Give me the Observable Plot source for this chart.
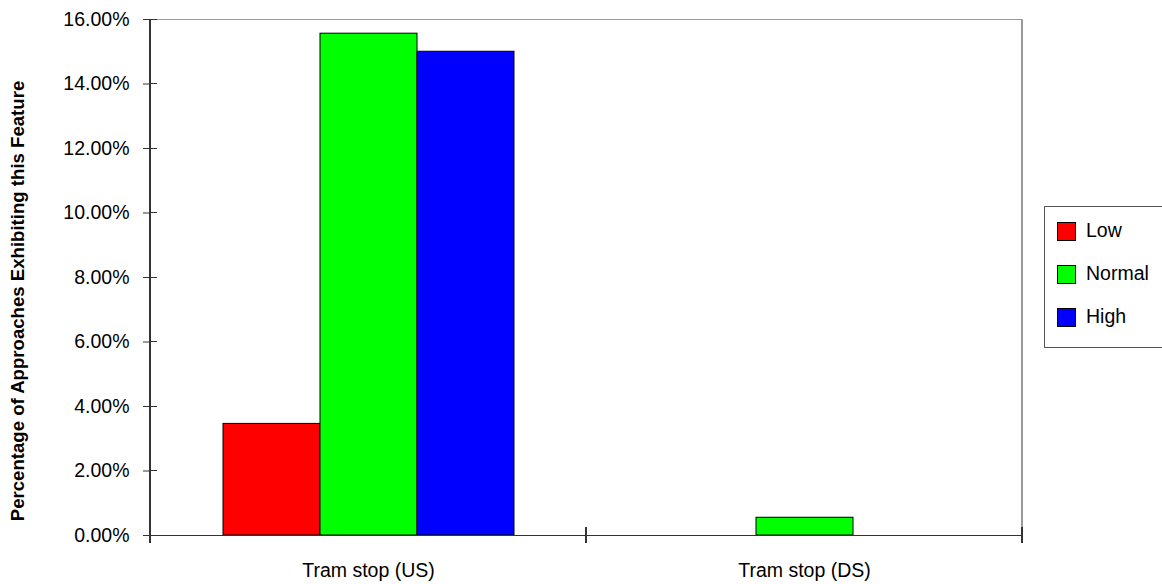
<!DOCTYPE html>
<html>
<head>
<meta charset="utf-8">
<script src="https://cdn.jsdelivr.net/npm/d3@7"></script>
<script src="https://cdn.jsdelivr.net/npm/@observablehq/plot@0.6"></script>
<style>
  html, body { margin: 0; padding: 0; background: #fff; overflow: hidden; }
  #wrap { position: relative; width: 1162px; height: 584px; font-family: Arial, "Liberation Sans", sans-serif; color: #000; }
  #ytitle { position: absolute; left: 17.5px; top: 301px; transform: translate(-50%, -50%) rotate(-90deg);
            white-space: nowrap; font-weight: bold; font-size: 18.6px; line-height: 1; }
  #legend { position: absolute; left: 1044px; top: 206px; width: 140px; height: 142px; box-sizing: border-box;
            border: 1px solid #555; background: #fff; }
  .item { position: absolute; left: 12px; height: 20px; display: flex; align-items: center; }
  .sw { width: 19px; height: 19px; border: 1px solid #000; box-sizing: border-box; margin-right: 10px; }
  .lb { font-size: 19.5px; line-height: 1; }
</style>
</head>
<body>
<div id="wrap">
  <div id="chart"></div>
  <div id="ytitle">Percentage of Approaches Exhibiting this Feature</div>
  <div id="legend"></div>
</div>
<script>
// ---- data ----
const categories = ["Tram stop (US)", "Tram stop (DS)"];
const series = ["Low", "Normal", "High"];
const lowValues = [0.0346, 0];
const normalValues = [0.1556, 0.0055];
const highValues = [0.150, 0];
const colors = ["#FF0000", "#00FF00", "#0000FF"];
const yTicks = [0, 0.02, 0.04, 0.06, 0.08, 0.10, 0.12, 0.14, 0.16];

const valuesBySeries = [lowValues, normalValues, highValues];
const data = [];
categories.forEach((c, i) => {
  series.forEach((s, j) => {
    const v = valuesBySeries[j][i];
    if (v > 0) data.push({category: c, series: s, value: v});
  });
});

const plot = Plot.plot({
  width: 1162,
  height: 584,
  marginTop: 19,
  marginBottom: 49,
  marginLeft: 150,
  marginRight: 140,
  style: {fontFamily: "Arial, 'Liberation Sans', sans-serif", fontSize: "19.5px", color: "#000", background: "#fff", overflow: "visible"},
  fx: {domain: categories, padding: 0, label: null},
  x: {domain: series, paddingInner: 0, paddingOuter: 0.747, axis: null},
  y: {domain: [0, 0.16], label: null},
  color: {domain: series, range: colors},
  marks: [
    Plot.barY(data, {fx: "category", x: "series", y: "value", fill: "series", stroke: "#000", strokeWidth: 1}),
    Plot.ruleY([0], {stroke: "#333", strokeWidth: 1.2}),
    Plot.ruleY([0.16], {stroke: "#999", strokeWidth: 1.2}),
    Plot.axisY({ticks: yTicks, tickFormat: d3.format(".2%"), tickSize: 7, tickPadding: 14, label: null, stroke: "#333"}),
    Plot.axisFx({anchor: "bottom", tickSize: 0, tickPadding: 28, label: null})
  ]
});
document.getElementById("chart").appendChild(plot);

// frame lines and crossing ticks derived from the plot's own scales
const ys = plot.scale("y"), fxs = plot.scale("fx");
const svg = d3.select(plot);
const x0 = fxs.apply(categories[0]);
const xEnd = fxs.apply(categories[categories.length - 1]) + fxs.bandwidth;
const y0 = ys.apply(0), yTop = ys.apply(0.16);
const g = svg.append("g").attr("shape-rendering", "crispEdges");
g.append("line").attr("x1", xEnd).attr("x2", xEnd).attr("y1", yTop).attr("y2", y0).attr("stroke", "#999").attr("stroke-width", 1.5);
g.append("line").attr("x1", x0).attr("x2", x0).attr("y1", yTop).attr("y2", y0 + 8).attr("stroke", "#333").attr("stroke-width", 1.5);
const bounds = categories.map(c => fxs.apply(c)).concat([xEnd]);
bounds.forEach(b => {
  g.append("line").attr("x1", b).attr("x2", b).attr("y1", y0 - 8).attr("y2", y0 + 8).attr("stroke", "#333").attr("stroke-width", 1.5);
});
yTicks.forEach(t => {
  g.append("line").attr("x1", x0).attr("x2", x0 + 7).attr("y1", ys.apply(t)).attr("y2", ys.apply(t)).attr("stroke", "#333").attr("stroke-width", 1);
});

// legend
const legend = document.getElementById("legend");
series.forEach((s, i) => {
  const it = document.createElement("div");
  it.className = "item";
  it.style.top = (14 + i * 43) + "px";
  it.innerHTML = `<div class="sw" style="background:${colors[i]}"></div><span class="lb">${s}</span>`;
  legend.appendChild(it);
});
</script>
</body>
</html>
